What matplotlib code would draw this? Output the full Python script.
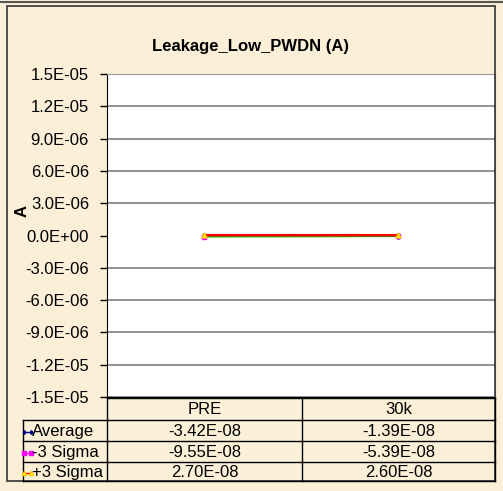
import matplotlib
matplotlib.use('Agg')
import matplotlib.pyplot as plt
from matplotlib.lines import Line2D
from matplotlib.patches import Rectangle
import numpy as np

plt.rcParams['font.family'] = ['Liberation Sans', 'DejaVu Sans']

# data
categories = ['PRE', '30k']
series_names = ['Average', '-3 Sigma', '+3 Sigma']
average = [-3.42e-08, -1.39e-08]
minus3 = [-9.55e-08, -5.39e-08]
plus3 = [2.70e-08, 2.60e-08]
table_text = [['-3.42E-08', '-1.39E-08'],
              ['-9.55E-08', '-5.39E-08'],
              ['2.70E-08', '2.60E-08']]
yticks = [-1.5e-05, -1.2e-05, -9.0e-06, -6.0e-06, -3.0e-06, 0.0,
          3.0e-06, 6.0e-06, 9.0e-06, 1.2e-05, 1.5e-05]

W, H = 503, 491
bg = '#fbefd7'
fs = 12
fig = plt.figure(figsize=(W / 100, H / 100), dpi=100)
fig.patch.set_facecolor(bg)

def fx(x):
  return x / W

def fy(y):
  return 1 - y / H

# chart frame
fig.add_artist(Line2D([0, 1], [fy(2), fy(2)], color='#555555', lw=1.5))
fig.add_artist(Rectangle((fx(7), fy(481)), fx(495) - fx(7), fy(6) - fy(481),
                         fill=False, edgecolor='#333333', lw=1.2))

L, R, T, B = 107, 495, 74, 397
ax = fig.add_axes([fx(L), fy(B), fx(R) - fx(L), fy(T) - fy(B)])
ax.set_facecolor('white')
ax.set_ylim(-1.5e-05, 1.5e-05)
ax.set_xlim(-0.5, 1.5)
ax.set_yticks(yticks)
ax.set_yticklabels(['%.1E' % v for v in yticks], fontsize=fs)
ax.set_xticks([])
for v in yticks:
  if v != 0:
    ax.axhline(v, color='#808080', lw=1.2, zorder=1)
for s in ['top', 'right']:
  ax.spines[s].set_color('#999999')
for s in ['left', 'bottom']:
  ax.spines[s].set_color('black')
ax.tick_params(axis='y', direction='out', length=5, width=1, pad=8)

xs = np.arange(len(categories))
ax.plot(xs, average, color='#000080', lw=1.5, marker='d', ms=3, zorder=3)
ax.plot(xs, minus3, color='#00cc00', lw=1.5, marker='s', ms=3.5,
        mfc='#ff00ff', mec='#ff00ff', zorder=4)
ax.plot(xs, plus3, color='#ff0000', lw=1.8, marker='^', ms=3.5,
        mfc='#ffff00', mec='#ffcc00', zorder=5)

fig.text(fx(251), fy(47), 'Leakage_Low_PWDN (A)', ha='center', va='center',
         fontsize=fs, weight='bold')
fig.text(fx(22), fy(211), 'A', ha='center', va='center', rotation=90,
         fontsize=fs, weight='bold')

# data table
rows = [398, 420, 441, 462, 481]
cols = [23, 107, 302, 495]
lc = 'black'
fig.add_artist(Line2D([fx(L), fx(L)], [fy(rows[0]), fy(rows[-1])], color=lc, lw=1))
fig.add_artist(Line2D([fx(cols[2]), fx(cols[2])], [fy(rows[0]), fy(rows[-1])], color=lc, lw=1))
fig.add_artist(Line2D([fx(cols[3]), fx(cols[3])], [fy(rows[0]), fy(rows[-1])], color=lc, lw=1))
fig.add_artist(Line2D([fx(cols[0]), fx(cols[0])], [fy(rows[1]), fy(rows[-1])], color=lc, lw=1))
fig.add_artist(Line2D([fx(L), fx(R)], [fy(rows[0]), fy(rows[0])], color=lc, lw=1))
for r in rows[1:]:
  fig.add_artist(Line2D([fx(cols[0]), fx(cols[3])], [fy(r), fy(r)], color=lc, lw=1))

for j, c in enumerate(categories):
  fig.text(fx((cols[j + 1] + cols[j + 2]) / 2), fy((rows[0] + rows[1]) / 2 + 1), c,
           ha='center', va='center', fontsize=fs)

key_styles = [dict(color='#000080', marker='d', ms=2),
              dict(color='#ff00ff', marker='s', ms=2.5),
              dict(color='#ff0000', marker='^', ms=3, mfc='#ffff00', mec='#ffcc00')]
for i, name in enumerate(series_names):
  yc = fy((rows[i + 1] + rows[i + 2]) / 2 + 1)
  fig.add_artist(Line2D([fx(24), fx(31)], [yc, yc], lw=1, **key_styles[i]))
  fig.text(fx(32), yc, name, ha='left', va='center', fontsize=fs)
  for j in range(len(categories)):
    fig.text(fx((cols[j + 1] + cols[j + 2]) / 2), yc, table_text[i][j],
             ha='center', va='center', fontsize=fs)

fig.savefig('out.png', dpi=100, facecolor=bg)
